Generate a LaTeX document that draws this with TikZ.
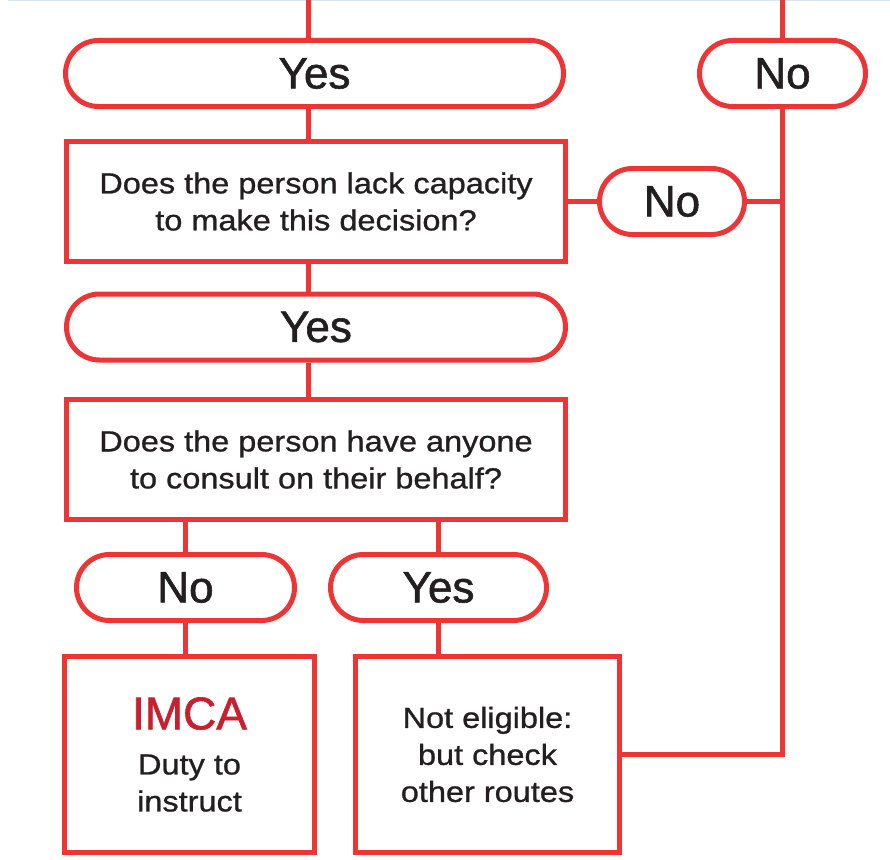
\documentclass[tikz,border=0pt]{standalone}
\usepackage{fontspec}
\setmainfont{Liberation Sans}
\newfontfamily\boxfont[FakeStretch=1.12, FakeBold=0.9]{Liberation Sans}
\newfontfamily\pillfont[FakeBold=1.3]{Liberation Sans}
\definecolor{flowred}{HTML}{EE3535}
\definecolor{imcared}{HTML}{C8202F}
\definecolor{ink}{HTML}{231F20}
\definecolor{topblue}{HTML}{D6E6F3}
\begin{document}
\begin{tikzpicture}[x=1pt,y=-1pt,
  conn/.style={draw=flowred, line width=5pt},
  pill/.style={draw=flowred, line width=5pt, fill=white, rounded corners=33pt,
    minimum height=66pt, inner sep=0pt, text=ink,
    font=\pillfont\fontsize{44}{44}\selectfont},
  qbox/.style={draw=flowred, line width=5pt, fill=white, inner sep=0pt,
    align=center, text=ink, font=\boxfont\fontsize{29}{37}\selectfont}]
\useasboundingbox (0,0) rectangle (890,859);
% thin top rule
\coordinate (bl) at (8,0.75);
\coordinate (br) at (890,0.75);
\draw[topblue, line width=1.5pt] (bl) -- (br);
\coordinate (tl) at (308,0);
\coordinate (tr) at (782.5,0);
% nodes
\node[pill, minimum width=498pt] (yes1) at (314.5,73.5) {Yes};
\node[pill, minimum width=166pt] (no1) at (782.5,73.5) {No};
\node[qbox, minimum width=499pt, minimum height=120pt] (q1) at (316,201.5)
  {Does the person lack capacity\\to make this decision?};
\node[pill, minimum width=145pt] (no2) at (672,201.5) {No};
\node[pill, minimum width=499pt] (yes2) at (316,327) {Yes};
\node[qbox, minimum width=499pt, minimum height=120pt] (q2) at (316,459.5)
  {Does the person have anyone\\to consult on their behalf?};
\node[pill, minimum width=218pt] (no3) at (185.5,587.5) {No};
\node[pill, minimum width=216pt] (yes3) at (438.5,587.5) {Yes};
\node[qbox, minimum width=250pt, minimum height=196pt] (imca) at (189.5,754.5)
  {{\pillfont\fontsize{46}{46}\selectfont\color{imcared}IMCA}\\[8pt]Duty to\\instruct};
\node[qbox, minimum width=264pt, minimum height=196pt] (ne) at (487.5,754.5)
  {Not eligible:\\but check\\other routes};
% connectors
\draw[conn] (tl) -- (tl |- yes1.north);
\draw[conn] (tr) -- (no1.north);
\draw[conn] (yes1.south -| tl) -- (q1.north -| tl);
\draw[conn] (q1.south -| tl) -- (yes2.north -| tl);
\draw[conn] (yes2.south -| tl) -- (q2.north -| tl);
\draw[conn] (q1.east) -- (no2.west);
\draw[conn] (no2.east) -- (no2.east -| no1.south);
\draw[conn] (no1.south) |- (ne.east);
\draw[conn] (no3.north) -- (no3.north |- q2.south);
\draw[conn] (yes3.north) -- (yes3.north |- q2.south);
\draw[conn] (no3.south) -- (no3.south |- imca.north);
\draw[conn] (yes3.south) -- (yes3.south |- ne.north);
\end{tikzpicture}
\end{document}
